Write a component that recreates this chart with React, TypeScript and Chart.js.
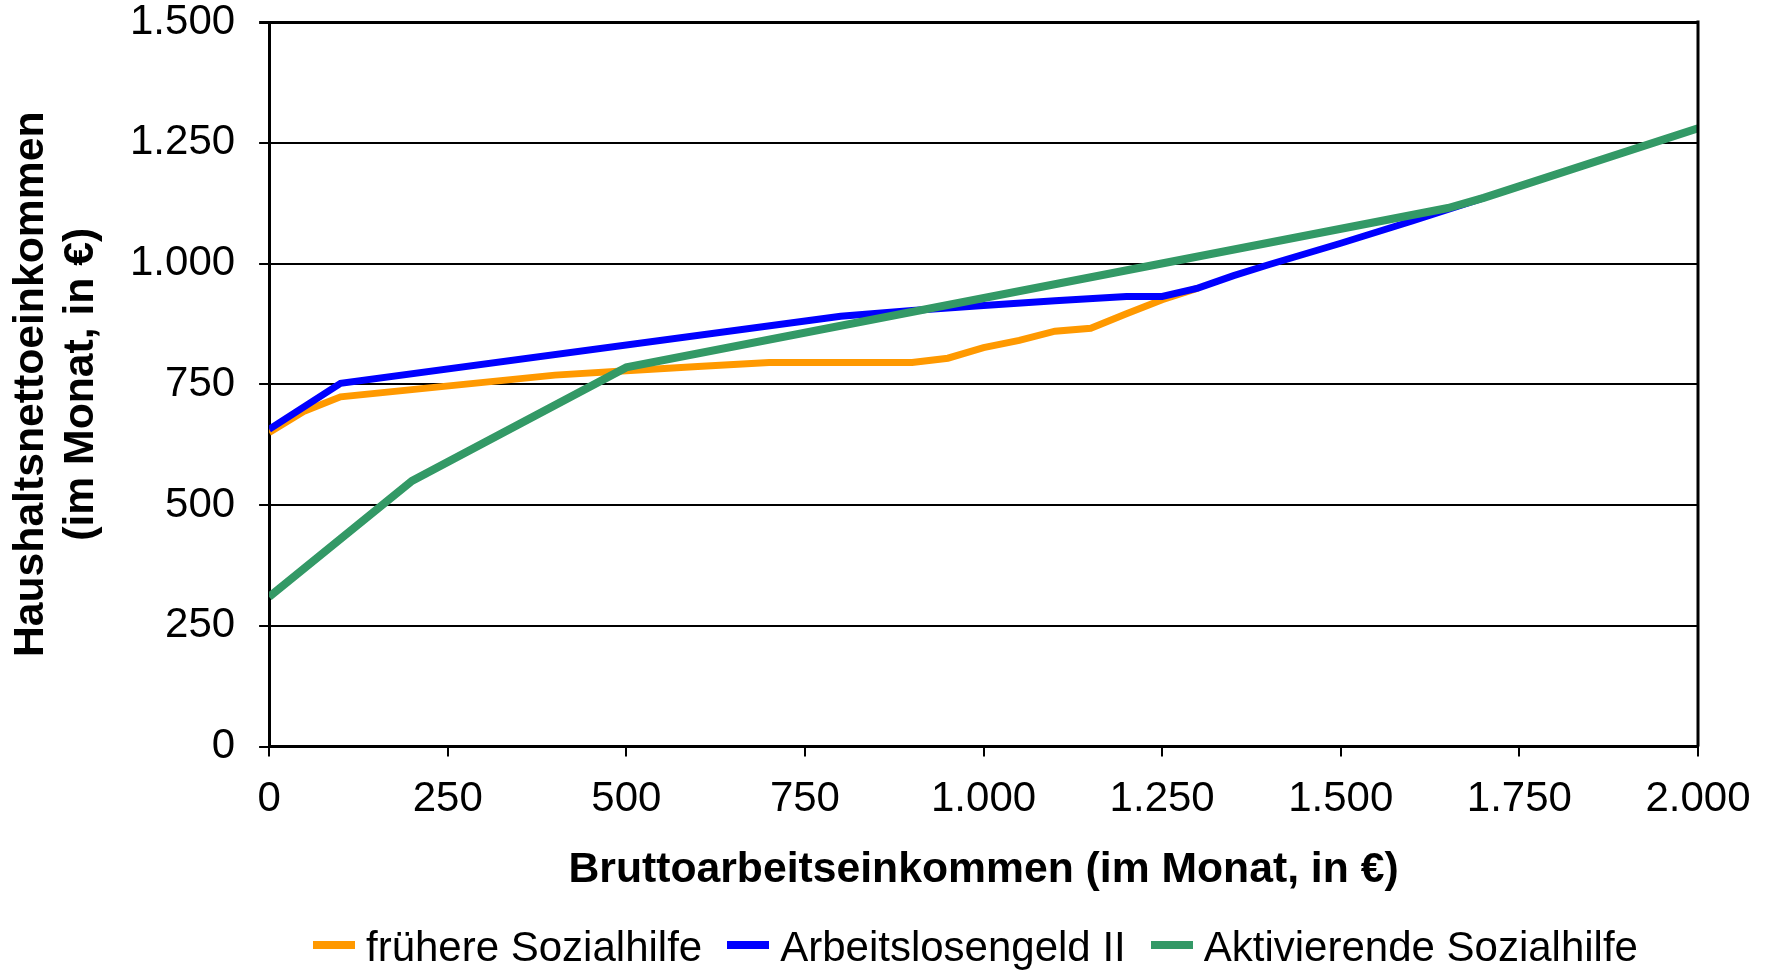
import React, { useEffect, useRef } from "react";
import { Chart, registerables } from "chart.js";

Chart.register(...registerables);

const FONT = "'Liberation Sans', Arial, Helvetica, sans-serif";

// Axis ticks
const xTickValues = [0, 250, 500, 750, 1000, 1250, 1500, 1750, 2000];
const xTickLabels = ["0", "250", "500", "750", "1.000", "1.250", "1.500", "1.750", "2.000"];
const yTickValues = [0, 250, 500, 750, 1000, 1250, 1500];
const yTickLabels = ["0", "250", "500", "750", "1.000", "1.250", "1.500"];

const xAxisTitle = "Bruttoarbeitseinkommen (im Monat, in €)";
const yAxisTitle = ["Haushaltsnettoeinkommen", "(im Monat, in €)"];

// Series
const seriesNames = ["frühere Sozialhilfe", "Arbeitslosengeld II", "Aktivierende Sozialhilfe"];
const seriesColors = ["#FF9900", "#0000FF", "#339966"];

// frühere Sozialhilfe
const fruehereX = [0, 50, 100, 400, 500, 600, 700, 800, 900, 950, 1000, 1050, 1100, 1150, 1200, 1250, 1300];
const fruehereY = [650, 695, 724, 769, 778, 787, 795, 795, 795, 804, 826, 841, 860, 866, 896, 925, 949];

// Arbeitslosengeld II
const alg2X = [0, 100, 800, 900, 1000, 1100, 1200, 1250, 1300, 1350, 1400, 1500, 1600, 1700];
const alg2Y = [657, 752, 891, 903, 913, 923, 932, 932, 949, 975, 998, 1042, 1088, 1136];

// Aktivierende Sozialhilfe
const aktivX = [0, 200, 500, 1650, 1700, 2000];
const aktivY = [310, 550, 785, 1115, 1136, 1280];

const toPoints = (xs: number[], ys: number[]) => xs.map((x, i) => ({ x, y: ys[i] }));

const frameRight = {
  id: "frameRight",
  afterDraw(chart: any) {
    const { ctx, chartArea } = chart;
    ctx.save();
    ctx.strokeStyle = "#000";
    ctx.lineWidth = 3;
    ctx.beginPath();
    ctx.moveTo(chartArea.right, chartArea.top - 1.5);
    ctx.lineTo(chartArea.right, chartArea.bottom);
    ctx.stroke();
    ctx.restore();
  },
};

export default function App() {
  const canvasRef = useRef<HTMLCanvasElement | null>(null);

  useEffect(() => {
    if (!canvasRef.current) return;
    const chart = new Chart(canvasRef.current, {
      type: "line",
      data: {
        datasets: [
          {
            label: seriesNames[2],
            data: toPoints(aktivX, aktivY),
            borderColor: seriesColors[2],
            backgroundColor: seriesColors[2],
            borderWidth: 8,
            pointRadius: 0,
            tension: 0,
          },
          {
            label: seriesNames[1],
            data: toPoints(alg2X, alg2Y),
            borderColor: seriesColors[1],
            backgroundColor: seriesColors[1],
            borderWidth: 7,
            pointRadius: 0,
            tension: 0,
          },
          {
            label: seriesNames[0],
            data: toPoints(fruehereX, fruehereY),
            borderColor: seriesColors[0],
            backgroundColor: seriesColors[0],
            borderWidth: 7,
            pointRadius: 0,
            tension: 0,
          },
        ],
      },
      options: {
        animation: false,
        responsive: true,
        maintainAspectRatio: false,
        layout: { padding: { left: 6, right: 69, top: 0, bottom: 0 } },
        plugins: {
          legend: { display: false },
          tooltip: { enabled: false },
        },
        scales: {
          x: {
            type: "linear",
            min: 0,
            max: 2000,
            afterBuildTicks: (axis: any) => {
              axis.ticks = xTickValues.map((v) => ({ value: v }));
            },
            afterFit: (axis: any) => {
              axis.paddingLeft = 0;
              axis.paddingRight = 0;
            },
            ticks: {
              color: "#000",
              font: { family: FONT, size: 42, lineHeight: 1.2 },
              padding: 18,
              maxRotation: 0,
              autoSkip: false,
              callback: (v: any) => {
                const i = xTickValues.indexOf(Number(v));
                return i >= 0 ? xTickLabels[i] : "";
              },
            },
            grid: {
              drawOnChartArea: false,
              drawTicks: true,
              tickLength: 10,
              color: "#000",
              lineWidth: 2,
            },
            border: { display: true, color: "#000", width: 3 },
            title: {
              display: true,
              text: xAxisTitle,
              color: "#000",
              font: { family: FONT, size: 42.7, weight: "bold", lineHeight: 50 / 42.7 },
              padding: { top: 2, bottom: 77 },
            },
          },
          y: {
            type: "linear",
            min: 0,
            max: 1500,
            afterBuildTicks: (axis: any) => {
              axis.ticks = yTickValues.map((v) => ({ value: v }));
            },
            afterFit: (axis: any) => {
              axis.paddingTop = 22;
              axis.paddingBottom = 20;
            },
            ticks: {
              color: "#000",
              font: { family: FONT, size: 42, lineHeight: 0.95 },
              padding: 24,
              autoSkip: false,
              callback: (v: any) => {
                const i = yTickValues.indexOf(Number(v));
                return i >= 0 ? yTickLabels[i] : "";
              },
            },
            grid: {
              drawTicks: true,
              tickLength: 10,
              color: "#000",
              lineWidth: (c: any) => (c.tick && c.tick.value === 1500 ? 3 : 2),
            },
            border: { display: true, color: "#000", width: 3 },
            title: {
              display: true,
              text: yAxisTitle,
              color: "#000",
              font: { family: FONT, size: 42.7, weight: "bold", lineHeight: 50 / 42.7 },
              padding: { top: 0, bottom: 0 },
            },
          },
        },
      },
      plugins: [frameRight],
    });
    return () => chart.destroy();
  }, []);

  const legendOrder = [0, 1, 2];

  return (
    <div
      style={{
        position: "fixed",
        left: 0,
        top: 0,
        width: 1767,
        height: 972,
        overflow: "hidden",
        background: "#fff",
      }}
    >
      <div style={{ position: "absolute", left: 0, top: 0, width: 1767, height: 972 }}>
        <canvas ref={canvasRef} />
      </div>
      <div
        style={{
          position: "absolute",
          left: 313,
          top: 922,
          height: 50,
          display: "flex",
          alignItems: "center",
          fontFamily: FONT,
          fontSize: 42,
          lineHeight: "50px",
          color: "#000",
          whiteSpace: "nowrap",
        }}
      >
        {legendOrder.map((i, k) => (
          <div key={i} style={{ display: "flex", alignItems: "center", marginLeft: k === 0 ? 0 : 25 }}>
            <span
              style={{
                display: "inline-block",
                width: 42,
                height: 8,
                background: seriesColors[i],
                marginRight: 11,
                position: "relative",
                top: -2,
              }}
            />
            <span>{seriesNames[i]}</span>
          </div>
        ))}
      </div>
    </div>
  );
}
